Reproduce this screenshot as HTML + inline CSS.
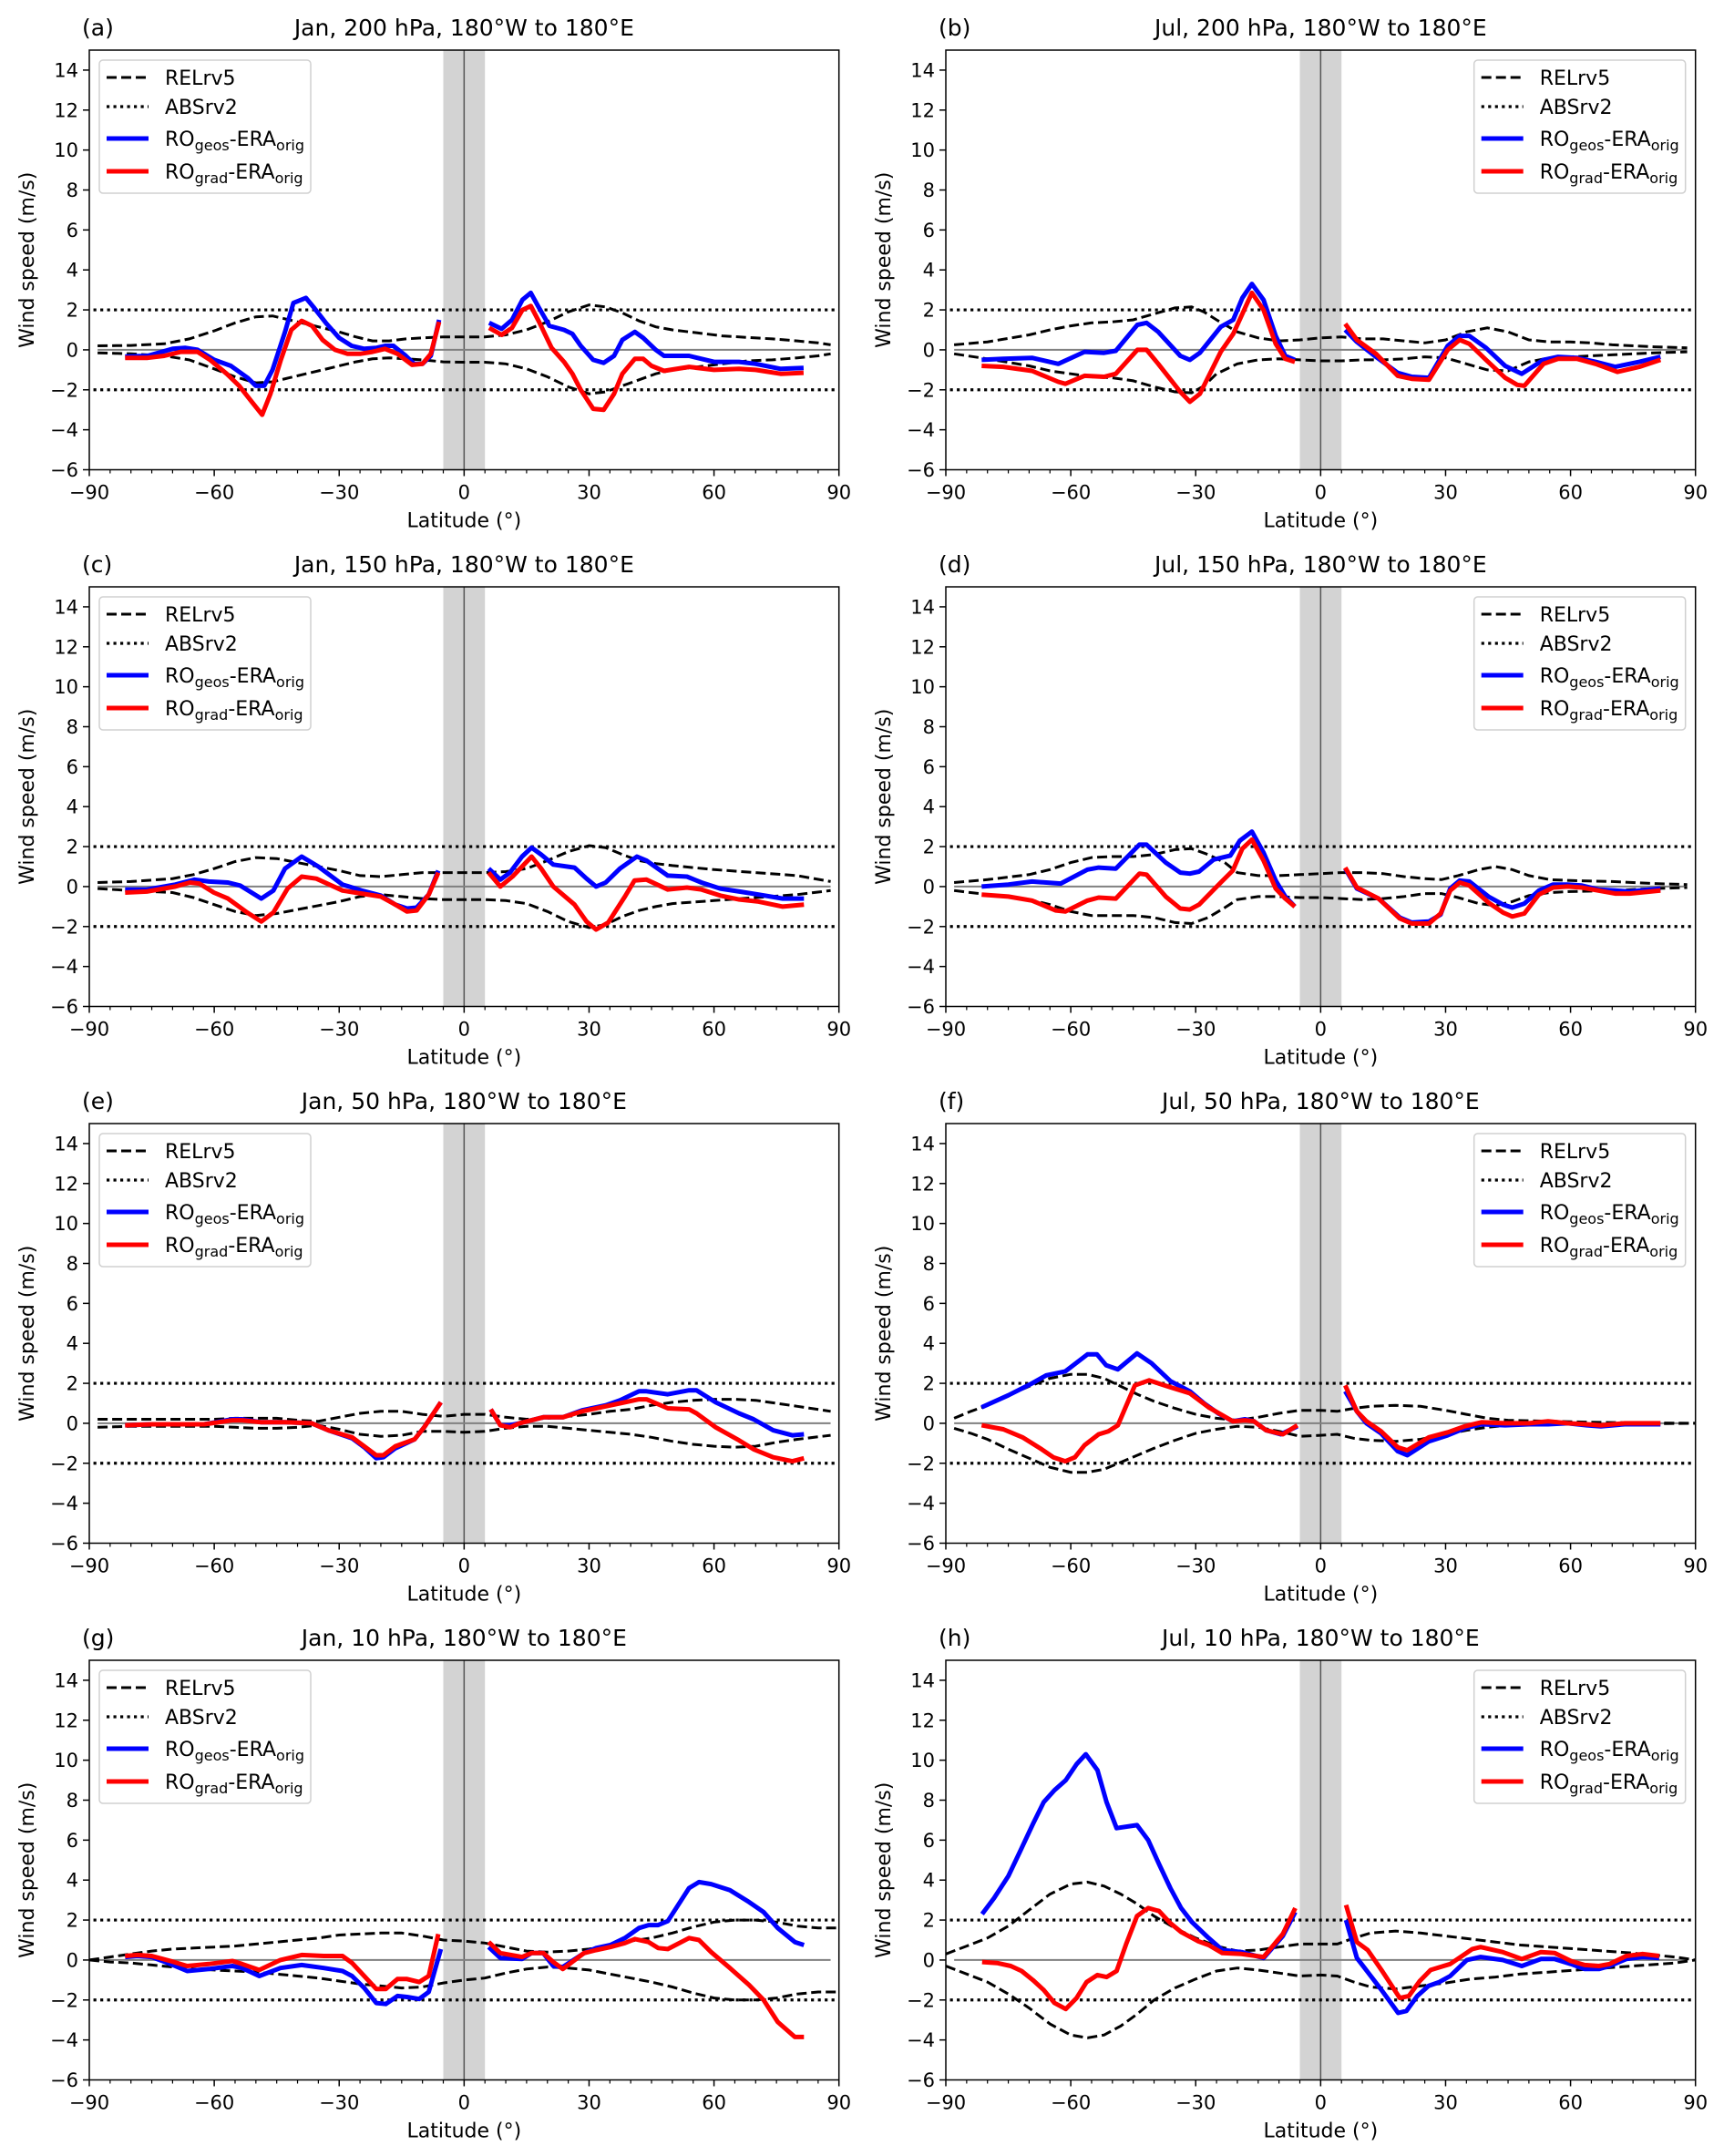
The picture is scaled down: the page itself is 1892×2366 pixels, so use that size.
<!DOCTYPE html>
<html><head><meta charset="utf-8"><title>Wind speed differences</title>
<style>html,body{margin:0;padding:0;background:#fff}svg{display:block}text{font-family:"DejaVu Sans","Liberation Sans",sans-serif;fill:#000}</style>
</head><body>
<svg id="fig" xmlns="http://www.w3.org/2000/svg" width="1892" height="2366" viewBox="0 0 1892 2366"></svg>
<script>
// ---------- data ----------
const xTicks=[-90,-60,-30,0,30,60,90];
const yTicks=[-6,-4,-2,0,2,4,6,8,10,12,14];
const absLevels=[2,-2];

const aDashLat=[-88,-80,-72,-66,-60,-55,-50,-46,-42,-38,-34,-30,-26,-22,-18,-14,-10,-5,0,5,10,15,20,25,30,34,38,42,46,50,56,62,68,74,80,85,88];
const aDashUp=[0.2,0.22,0.3,0.55,0.95,1.35,1.65,1.7,1.5,1.3,1.1,0.9,0.65,0.45,0.45,0.55,0.6,0.65,0.65,0.65,0.75,1.0,1.4,1.9,2.25,2.15,1.85,1.45,1.15,1.0,0.85,0.7,0.62,0.55,0.45,0.35,0.25];
const aDashLo=[-0.15,-0.2,-0.3,-0.5,-0.95,-1.35,-1.65,-1.6,-1.4,-1.2,-1.0,-0.8,-0.6,-0.45,-0.4,-0.45,-0.5,-0.6,-0.62,-0.62,-0.7,-0.95,-1.35,-1.85,-2.2,-2.1,-1.8,-1.5,-1.2,-1.0,-0.85,-0.7,-0.55,-0.5,-0.4,-0.3,-0.2];
const aBlueLat=[-81.4,-76,-70,-67,-64,-60,-56,-52,-50,-48,-46,-43,-41,-38,-36,-33,-30,-27,-24,-21,-19,-17,-14,-12,-10,-8,-6,null,6,9,11.5,14,16,18,20.5,24,26,28,31,33.5,36,38,41,43,46,48,54,60,66,70,76,81.5];
const aBlue=[-0.33,-0.3,0.05,0.1,0,-0.5,-0.8,-1.4,-1.8,-1.8,-1,0.9,2.35,2.6,2.1,1.3,0.6,0.2,0.05,0.1,0.2,0.2,-0.3,-0.7,-0.7,-0.3,1.5,null,1.35,1.05,1.5,2.5,2.85,2.1,1.2,1.0,0.8,0.2,-0.5,-0.65,-0.3,0.5,0.9,0.6,0,-0.3,-0.3,-0.6,-0.6,-0.7,-0.95,-0.9];
const aRedLat=[-81.4,-76,-72,-68,-64,-61,-57,-54,-51,-48.5,-46.5,-44,-41.5,-39,-36.5,-34,-31,-28,-25,-22,-19,-16,-12.5,-10,-8,-6,null,6,9,11.5,14,16,18,21,24,26,28,31,33.5,36,38,41,43,45,48,54,60,66,70,76,81.5];
const aRed=[-0.4,-0.4,-0.3,-0.1,-0.1,-0.5,-1.2,-1.8,-2.6,-3.25,-2.2,-0.5,1.0,1.45,1.2,0.5,0,-0.2,-0.2,-0.1,0.05,-0.2,-0.75,-0.7,-0.2,1.4,null,1.1,0.75,1.1,2.0,2.2,1.4,0.1,-0.6,-1.2,-2.0,-2.95,-3.0,-2.2,-1.2,-0.45,-0.45,-0.8,-1.05,-0.85,-1.0,-0.95,-1.0,-1.2,-1.15];

const bDashLat=[-88,-80,-70,-65,-60,-55,-50,-45,-40,-35,-31,-28,-25,-20,-15,-10,-5,0,5,10,15,20,25,30,35,40,45,50,55,60,65,70,80,88];
const bDashUp=[0.25,0.4,0.75,1.0,1.2,1.35,1.4,1.5,1.8,2.1,2.15,1.9,1.5,0.9,0.6,0.45,0.5,0.6,0.65,0.55,0.55,0.45,0.35,0.5,0.9,1.1,0.9,0.5,0.4,0.4,0.35,0.25,0.15,0.1];
const bDashLo=[-0.2,-0.45,-0.8,-1.05,-1.2,-1.35,-1.4,-1.55,-1.85,-2.1,-2.15,-1.8,-1.2,-0.7,-0.5,-0.45,-0.5,-0.55,-0.55,-0.5,-0.5,-0.45,-0.35,-0.4,-0.7,-1.0,-1.05,-0.6,-0.4,-0.35,-0.3,-0.25,-0.15,-0.1];
const bBlueLat=[-81.4,-76.2,-69.3,-63,-56.7,-52,-49.2,-44,-41.8,-39,-33.7,-31.4,-29,-24,-21,-18.8,-16.5,-13.7,-10.8,-8.5,-6.2,null,5.9,8.7,13.3,18.5,21.9,26,30.5,33.4,35.7,39.7,44.3,48.3,53.5,57,61.6,66,70.7,76.5,81.6];
const bBlue=[-0.5,-0.45,-0.4,-0.7,-0.1,-0.15,-0.05,1.25,1.35,0.9,-0.3,-0.5,-0.15,1.15,1.5,2.6,3.3,2.5,0.7,-0.3,-0.5,null,1.0,0.4,-0.35,-1.15,-1.35,-1.4,0.2,0.7,0.7,0.1,-0.8,-1.2,-0.5,-0.35,-0.4,-0.6,-0.85,-0.6,-0.35];
const bRedLat=[-81.4,-76.2,-69.3,-63,-61.3,-56.7,-52,-49.2,-44,-41.8,-39,-33.7,-31.4,-29,-24,-21,-18.8,-16.5,-13.7,-10.8,-8.5,-6.2,null,5.9,8.7,13.3,18.5,21.9,26,30.5,33.4,35.7,39.7,44.3,47.2,48.9,53.5,57,61.6,66,71.3,76.5,81.6];
const bRed=[-0.8,-0.85,-1.05,-1.6,-1.7,-1.3,-1.35,-1.2,0,0,-0.7,-2.1,-2.6,-2.2,-0.1,0.8,1.8,2.85,2.0,0.3,-0.45,-0.6,null,1.3,0.5,-0.2,-1.3,-1.45,-1.5,0,0.5,0.3,-0.5,-1.4,-1.75,-1.8,-0.7,-0.45,-0.45,-0.7,-1.1,-0.85,-0.5];

const cDashLat=[-88,-80,-70,-65,-60,-55,-50,-45,-40,-35,-30,-25,-20,-15,-10,-5,0,5,10,15,20,25,30,34,38,42,46,50,60,70,80,88];
const cDashUp=[0.2,0.25,0.4,0.6,0.9,1.25,1.45,1.4,1.2,1.0,0.8,0.55,0.5,0.6,0.7,0.7,0.7,0.7,0.75,0.9,1.3,1.75,2.05,1.95,1.6,1.3,1.15,1.05,0.85,0.7,0.55,0.25];
const cDashLo=[-0.1,-0.2,-0.3,-0.55,-0.9,-1.25,-1.45,-1.35,-1.15,-0.95,-0.75,-0.5,-0.4,-0.5,-0.6,-0.65,-0.65,-0.65,-0.7,-0.85,-1.25,-1.75,-2.05,-1.9,-1.5,-1.2,-1.0,-0.85,-0.7,-0.55,-0.4,-0.2];
const cBlueLat=[-81.4,-76.2,-69.3,-64.7,-61.3,-56.7,-53.8,-48.7,-45.8,-43,-39,-35,-29.2,-24.6,-20,-16.5,-13.7,-11.4,-8.5,-6.2,null,5.9,8.7,11,13.9,16.2,18.5,21.4,26.5,29.4,31.7,34,37.4,41.5,43.8,48.9,53.5,57,61.5,66.1,70.7,76.5,81.6];
const cBlue=[-0.15,-0.15,0.1,0.35,0.25,0.2,0.05,-0.6,-0.2,0.9,1.5,1.0,0.1,-0.2,-0.45,-0.9,-1.1,-1.05,-0.4,0.8,null,0.9,0.35,0.7,1.5,1.95,1.6,1.1,0.95,0.4,0,0.2,0.9,1.5,1.3,0.55,0.5,0.2,-0.1,-0.25,-0.4,-0.6,-0.6];
const cRedLat=[-81.4,-76.2,-69.3,-65.9,-63.6,-60.1,-56.7,-52.1,-48.7,-45.8,-42.4,-39,-35.5,-29.2,-24.6,-20,-16.5,-13.7,-11.4,-8.5,-6.2,null,5.9,8.7,11.6,16.2,18.5,21.4,26.5,29.4,31.7,34.6,38.6,40.9,43.8,48.9,53.5,57,61.5,66.1,70.7,76.5,81.6];
const cRed=[-0.3,-0.25,0,0.2,0.15,-0.3,-0.6,-1.3,-1.75,-1.3,-0.1,0.5,0.4,-0.2,-0.35,-0.5,-0.9,-1.25,-1.2,-0.4,0.7,null,0.7,0,0.5,1.5,0.9,0,-0.9,-1.75,-2.15,-1.8,-0.5,0.3,0.35,-0.15,-0.05,-0.15,-0.45,-0.65,-0.75,-1.0,-0.9];

const dDashLat=[-88,-80,-70,-65,-60,-55,-50,-45,-40,-35,-31,-27,-23,-20,-15,-10,-5,0,5,10,15,20,25,29,33,38,42,46,50,55,60,70,80,88];
const dDashUp=[0.2,0.35,0.6,0.85,1.2,1.45,1.5,1.5,1.6,1.85,1.9,1.6,1.2,0.7,0.55,0.55,0.6,0.65,0.7,0.7,0.65,0.5,0.4,0.35,0.55,0.85,1.0,0.85,0.55,0.35,0.3,0.25,0.15,0.1];
const dDashLo=[-0.2,-0.4,-0.65,-0.9,-1.25,-1.45,-1.45,-1.45,-1.55,-1.8,-1.85,-1.55,-1.05,-0.65,-0.5,-0.5,-0.55,-0.55,-0.6,-0.65,-0.6,-0.5,-0.35,-0.35,-0.55,-0.85,-0.95,-0.75,-0.45,-0.3,-0.25,-0.2,-0.1,-0.05];
const dBlueLat=[-81.4,-75,-69.3,-62.4,-56,-53.3,-49.2,-43.5,-41.8,-37.2,-33.7,-31.4,-29.2,-25.7,-21.7,-19.4,-16.5,-13.7,-10.8,-8.5,-6.2,null,5.9,8.7,13.9,19,21.9,26,28.8,31.1,33.4,35.7,40.3,43.8,46,48.9,52.4,55.8,59.3,62.7,66.7,70.7,74.2,81.6];
const dBlue=[0,0.1,0.25,0.15,0.85,0.95,0.9,2.1,2.1,1.2,0.7,0.65,0.75,1.35,1.55,2.3,2.75,1.7,0.3,-0.5,-1.0,null,0.9,-0.1,-0.6,-1.55,-1.8,-1.75,-1.4,-0.1,0.3,0.25,-0.5,-0.9,-1.05,-0.85,-0.2,0.1,0.1,0.05,-0.15,-0.2,-0.25,-0.1];
const dRedLat=[-81.4,-75,-69.3,-63.6,-61.3,-56,-53.3,-49.2,-43.5,-41.8,-37.2,-33.7,-31.4,-29.2,-24,-21.1,-18.8,-16.5,-13.7,-10.8,-8.5,-6.2,null,5.9,8.7,13.9,19,21.9,26,28.8,31.1,33.4,35.7,40.3,43.8,46,48.9,52.4,55.8,59.3,62.7,66.7,70.7,74.2,81.6];
const dRed=[-0.4,-0.5,-0.7,-1.2,-1.25,-0.7,-0.55,-0.6,0.65,0.6,-0.5,-1.1,-1.15,-0.9,0.2,0.8,1.9,2.35,1.3,-0.1,-0.6,-1.0,null,0.95,-0.05,-0.6,-1.6,-1.85,-1.85,-1.35,-0.2,0.2,0.05,-0.8,-1.3,-1.5,-1.35,-0.4,-0.05,0,-0.05,-0.2,-0.35,-0.35,-0.2];

const eDashLat=[-88,-80,-70,-65,-60,-55,-50,-45,-40,-35,-30,-25,-20,-15,-10,-5,0,5,10,15,20,25,30,35,40,45,50,55,60,65,70,75,80,88];
const eDashUp=[0.2,0.2,0.2,0.2,0.2,0.25,0.25,0.25,0.15,0.1,0.3,0.5,0.6,0.6,0.45,0.35,0.45,0.45,0.3,0.2,0.25,0.35,0.45,0.6,0.7,0.9,1.05,1.15,1.2,1.2,1.15,1.0,0.85,0.6];
const eDashLo=[-0.2,-0.15,-0.15,-0.15,-0.15,-0.2,-0.25,-0.25,-0.2,-0.1,-0.3,-0.55,-0.65,-0.6,-0.4,-0.4,-0.45,-0.4,-0.25,-0.15,-0.15,-0.25,-0.35,-0.45,-0.55,-0.7,-0.9,-1.05,-1.15,-1.2,-1.15,-0.95,-0.8,-0.6];
const eBlueLat=[-81.4,-75,-69.3,-62.4,-55.6,-53.3,-48.7,-42.9,-36.6,-32.6,-26.9,-24,-21.1,-19.4,-16.5,-11.9,-9.6,-5.6,null,6.4,8.7,11,13.3,19,23.7,28.3,34,37.4,42,43.8,48.9,54,55.8,60.4,66,69.5,74.2,78.8,81.6];
const eBlue=[-0.1,-0.05,-0.05,-0.05,0.2,0.2,0.05,0.05,0,-0.35,-0.75,-1.2,-1.75,-1.7,-1.25,-0.8,-0.2,1.05,null,0.7,-0.1,-0.1,0,0.3,0.3,0.65,0.9,1.15,1.6,1.6,1.45,1.65,1.65,1.05,0.5,0.2,-0.35,-0.6,-0.55];
const eRedLat=[-81.4,-75,-69.3,-62.4,-55.6,-53.3,-48.7,-42.9,-36.6,-32.6,-26.9,-24,-21.1,-19.4,-16.5,-11.9,-9.6,-5.6,null,6.4,8.7,11,13.3,19,23.7,28.3,34,37.4,42,43.8,48.9,54,55.8,60.4,66,69.5,74.2,78.8,81.6];
const eRed=[-0.1,-0.05,-0.05,-0.05,0.15,0.15,0.05,0.05,0,-0.35,-0.7,-1.15,-1.6,-1.6,-1.15,-0.8,-0.2,1.05,null,0.7,-0.1,-0.2,0,0.3,0.3,0.6,0.85,1.0,1.2,1.2,0.75,0.7,0.5,-0.2,-0.85,-1.3,-1.7,-1.9,-1.75];

const fDashLat=[-88,-84,-80,-75,-70,-65,-60,-56,-52,-48,-44,-40,-35,-30,-25,-20,-15,-10,-5,0,4,8,12,18,24,30,35,40,45,55,65,80,90];
const fDashUp=[0.25,0.6,0.9,1.4,1.85,2.25,2.45,2.45,2.25,1.85,1.45,1.1,0.75,0.45,0.25,0.15,0.3,0.5,0.65,0.65,0.6,0.75,0.85,0.9,0.85,0.65,0.45,0.25,0.15,0.1,0.05,0.02,0];
const fDashLo=[-0.25,-0.5,-0.8,-1.3,-1.75,-2.2,-2.45,-2.45,-2.3,-1.95,-1.6,-1.25,-0.85,-0.5,-0.3,-0.15,-0.2,-0.4,-0.65,-0.6,-0.55,-0.75,-0.85,-0.9,-0.8,-0.55,-0.35,-0.2,-0.1,-0.05,-0.05,-0.02,0];
const fBlueLat=[-81.4,-75,-69.3,-65.9,-61.3,-56,-53.7,-51.5,-48.7,-44.1,-40.6,-36,-31.4,-28,-24.6,-21.1,-18.2,-16,-13.1,-9.6,-5.6,null,5.9,8.7,11,14.5,18.5,20.8,26,30.5,34.6,38.6,44.3,50,54.6,59.3,63.9,67.3,73,81.6];
const fBlue=[0.8,1.4,2.0,2.4,2.6,3.45,3.45,2.9,2.7,3.5,3.0,2.1,1.6,1.0,0.5,0.1,0.2,0.1,-0.35,-0.55,-0.15,null,1.6,0.6,0,-0.5,-1.4,-1.6,-0.9,-0.6,-0.25,-0.05,-0.1,-0.05,-0.05,0,-0.1,-0.15,-0.05,-0.05];
const fRedLat=[-81.4,-76.2,-71.6,-67,-64.2,-61.3,-59,-56.7,-53.3,-51,-48.7,-44.6,-41.2,-36,-31.4,-26.9,-21.1,-18.2,-16,-13.1,-9.1,-5.6,null,5.9,8.7,11,14.5,18.5,20.8,26,30.5,34.6,38.6,44.3,50,54.6,59.3,63.9,67.3,73,81.6];
const fRed=[-0.1,-0.3,-0.7,-1.3,-1.7,-1.9,-1.7,-1.1,-0.55,-0.4,-0.1,1.9,2.15,1.8,1.5,0.8,0.1,0.15,0.1,-0.35,-0.55,-0.1,null,1.9,0.6,0.1,-0.4,-1.2,-1.35,-0.7,-0.45,-0.15,0.05,0,0,0.1,0,-0.05,-0.1,0,0];

const gDashLat=[-90,-85,-80,-75,-70,-65,-60,-55,-50,-45,-40,-35,-30,-25,-20,-15,-10,-5,0,5,10,15,20,25,30,35,40,45,50,55,60,65,70,75,80,85,90];
const gDashUp=[0,0.15,0.3,0.45,0.55,0.6,0.65,0.7,0.8,0.9,1.0,1.1,1.25,1.3,1.35,1.35,1.2,1.0,0.95,0.85,0.65,0.45,0.4,0.45,0.55,0.75,0.95,1.1,1.35,1.65,1.9,2.0,2.0,1.9,1.7,1.6,1.6];
const gDashLo=[0,-0.1,-0.15,-0.25,-0.35,-0.45,-0.5,-0.55,-0.6,-0.7,-0.8,-0.9,-1.05,-1.2,-1.3,-1.4,-1.35,-1.15,-1.0,-0.9,-0.65,-0.45,-0.35,-0.4,-0.5,-0.7,-0.9,-1.1,-1.35,-1.65,-1.9,-2.0,-2.0,-1.9,-1.7,-1.6,-1.6];
const gBlueLat=[-81.4,-78.5,-75,-70.5,-66.5,-61.3,-55.6,-53.3,-49.2,-44.1,-39,-33.7,-29.2,-26.9,-24,-21.1,-18.8,-16,-13.7,-10.8,-8.5,-5.6,null,5.9,8.7,13.9,16.2,19,21.4,23.7,28.8,31.7,35.1,38.6,42,44.3,46.6,48.9,54,56.4,59.3,63.8,68.4,71.9,75.3,79.4,81.6];
const gBlue=[0.15,0.2,0.15,-0.2,-0.55,-0.45,-0.3,-0.4,-0.8,-0.4,-0.25,-0.4,-0.55,-0.8,-1.4,-2.15,-2.2,-1.8,-1.85,-1.95,-1.6,0.55,null,0.65,0.1,0.05,0.35,0.35,-0.3,-0.35,0.35,0.6,0.75,1.1,1.6,1.75,1.75,1.95,3.6,3.9,3.8,3.5,2.9,2.4,1.6,0.9,0.75];
const gRedLat=[-81.4,-78.5,-75,-70.5,-66.5,-61.3,-55.6,-53.3,-49.2,-44.1,-39,-33.7,-29.2,-26.9,-24,-21.1,-18.8,-16,-13.7,-10.8,-8.5,-6.2,null,5.9,8.7,13.9,16.2,19,21.4,23.7,28.8,31.7,35.1,38.6,41,44.3,46.6,48.9,54,56.4,59.3,63.8,68.4,71.9,75.3,79.4,81.6];
const gRed=[0.2,0.25,0.2,-0.05,-0.3,-0.2,-0.05,-0.2,-0.5,0,0.25,0.2,0.2,-0.15,-0.8,-1.45,-1.45,-0.95,-0.95,-1.1,-0.8,1.3,null,0.9,0.35,0.15,0.35,0.35,-0.1,-0.45,0.35,0.5,0.65,0.85,1.05,0.9,0.6,0.55,1.1,1.0,0.4,-0.4,-1.25,-2.0,-3.1,-3.85,-3.85];

const hDashLat=[-90,-85,-80,-75,-70,-65,-60,-56,-52,-48,-44,-40,-35,-30,-25,-20,-15,-10,-5,0,4,8,12,18,24,30,36,42,48,55,65,75,85,90];
const hDashUp=[0.3,0.7,1.1,1.7,2.5,3.3,3.8,3.9,3.7,3.3,2.8,2.2,1.6,1.1,0.7,0.45,0.5,0.65,0.8,0.8,0.8,1.1,1.35,1.45,1.35,1.2,1.05,0.9,0.75,0.65,0.5,0.35,0.15,0];
const hDashLo=[-0.3,-0.7,-1.1,-1.7,-2.4,-3.2,-3.75,-3.9,-3.75,-3.3,-2.7,-2.0,-1.4,-0.95,-0.55,-0.4,-0.5,-0.65,-0.8,-0.75,-0.8,-1.1,-1.35,-1.45,-1.3,-1.15,-0.95,-0.85,-0.7,-0.6,-0.45,-0.3,-0.15,0];
const hBlueLat=[-81.3,-78.4,-75,-71.8,-69.1,-66.5,-63.9,-61.2,-58.6,-56.4,-53.6,-51.4,-49,-44.1,-41.4,-38.8,-36.1,-33.5,-30.9,-26.9,-23.6,-19,-13.7,-9.1,-6.1,null,6.1,8.7,11.3,14.6,18.6,20.6,23.2,25.9,28.5,31.1,35.1,38.4,43.7,48.3,52.9,56.2,60.1,63.4,66.8,69.4,73.4,77.3,81.3];
const hBlue=[2.3,3.1,4.2,5.6,6.8,7.9,8.5,9.0,9.8,10.3,9.5,7.9,6.6,6.75,6.0,4.8,3.6,2.6,1.9,1.1,0.5,0.4,0.1,1.2,2.4,null,2.0,0.1,-0.6,-1.5,-2.65,-2.55,-1.8,-1.3,-1.1,-0.8,0,0.15,0,-0.3,0.05,0.05,-0.2,-0.45,-0.45,-0.3,0.05,0.15,0.1];
const hRedLat=[-81.3,-77.7,-74.4,-71.8,-69.1,-66.5,-63.9,-61.2,-58.6,-56.2,-53.6,-51.4,-49,-46.7,-44.1,-41.4,-38.8,-36.1,-33.5,-29.5,-26.9,-23.6,-19,-13.7,-9.1,-6.1,null,6.1,8.7,11.3,14.6,19,21.2,23.8,26.4,31.1,36.4,38.4,43.7,48.3,52.9,56.2,60.1,63.4,66.8,69.4,73.4,77.3,81.3];
const hRed=[-0.1,-0.15,-0.3,-0.55,-1.0,-1.5,-2.15,-2.45,-1.9,-1.1,-0.75,-0.85,-0.55,0.8,2.2,2.6,2.45,1.85,1.4,0.95,0.75,0.35,0.3,0.15,1.3,2.6,null,2.75,0.9,0.5,-0.5,-1.9,-1.8,-1.05,-0.5,-0.2,0.55,0.65,0.4,0.05,0.4,0.35,-0.05,-0.25,-0.3,-0.2,0.2,0.3,0.2];

const panels=[
 {id:'a',title:'Jan, 200 hPa, 180°W to 180°E',col:0,row:0,legRight:false,dl:aDashLat,du:aDashUp,dd:aDashLo,bl:aBlueLat,b:aBlue,rl:aRedLat,r:aRed},
 {id:'b',title:'Jul, 200 hPa, 180°W to 180°E',col:1,row:0,legRight:true,dl:bDashLat,du:bDashUp,dd:bDashLo,bl:bBlueLat,b:bBlue,rl:bRedLat,r:bRed},
 {id:'c',title:'Jan, 150 hPa, 180°W to 180°E',col:0,row:1,legRight:false,dl:cDashLat,du:cDashUp,dd:cDashLo,bl:cBlueLat,b:cBlue,rl:cRedLat,r:cRed},
 {id:'d',title:'Jul, 150 hPa, 180°W to 180°E',col:1,row:1,legRight:true,dl:dDashLat,du:dDashUp,dd:dDashLo,bl:dBlueLat,b:dBlue,rl:dRedLat,r:dRed},
 {id:'e',title:'Jan, 50 hPa, 180°W to 180°E',col:0,row:2,legRight:false,dl:eDashLat,du:eDashUp,dd:eDashLo,bl:eBlueLat,b:eBlue,rl:eRedLat,r:eRed},
 {id:'f',title:'Jul, 50 hPa, 180°W to 180°E',col:1,row:2,legRight:true,dl:fDashLat,du:fDashUp,dd:fDashLo,bl:fBlueLat,b:fBlue,rl:fRedLat,r:fRed},
 {id:'g',title:'Jan, 10 hPa, 180°W to 180°E',col:0,row:3,legRight:false,dl:gDashLat,du:gDashUp,dd:gDashLo,bl:gBlueLat,b:gBlue,rl:gRedLat,r:gRed},
 {id:'h',title:'Jul, 10 hPa, 180°W to 180°E',col:1,row:3,legRight:true,dl:hDashLat,du:hDashUp,dd:hDashLo,bl:hBlueLat,b:hBlue,rl:hRedLat,r:hRed}
];

// ---------- drawing ----------
const NS='http://www.w3.org/2000/svg';
const svg=document.getElementById('fig');
function mk(tag,attrs,parent){const e=document.createElementNS(NS,tag);for(const k in attrs)e.setAttribute(k,attrs[k]);(parent||svg).appendChild(e);return e;}
const W=822.7,H=460.5,XMIN=-90,XMAX=90,YMIN=-6,YMAX=15;
function fmt(v){return v<0?'\u2212'+Math.abs(v):String(v);}

panels.forEach(p=>{
  const L=p.col?1038:98, T=55+p.row*589, B=T+H, R=L+W;
  const sx=v=>L+(v-XMIN)/(XMAX-XMIN)*W;
  const sy=v=>T+(YMAX-v)/(YMAX-YMIN)*H;
  const g=mk('g',{});
  
  
  const cp=mk('clipPath',{id:'clip'+p.id},g);
  mk('rect',{x:L,y:T,width:W,height:H},cp);
  const plot=mk('g',{'clip-path':'url(#clip'+p.id+')'},g);
  const band=mk('rect',{x:sx(-5),y:T,width:sx(5)-sx(-5),height:H,fill:'#d3d3d3'},plot);
  
  
  const vl=mk('line',{x1:sx(0),x2:sx(0),y1:T,y2:B,stroke:'#555',['stroke-width']:1.5},plot);
  
  
  const zl=mk('line',{x1:sx(-88),x2:sx(88),y1:sy(0),y2:sy(0),stroke:'#808080',['stroke-width']:2},plot);
  
  
  absLevels.forEach(v=>{
    const al=mk('line',{x1:sx(-89),x2:sx(89),y1:sy(v),y2:sy(v),stroke:'#000',['stroke-width']:3.2,['stroke-dasharray']:'3.2 4.3'},plot);
    
    
  });
  function path(lats,vals){let d='',pen=false;const n=Math.min(lats.length,vals.length);
    for(let i=0;i<n;i++){if(lats[i]===null||vals[i]===null){pen=false;continue;}d+=(pen?'L':'M')+sx(lats[i]).toFixed(1)+' '+sy(vals[i]).toFixed(1);pen=true;}return d;}
  const du=mk('path',{d:path(p.dl,p.du),fill:'none',stroke:'#000',['stroke-width']:3,['stroke-dasharray']:'11 5'},plot);
  
  
  const dd=mk('path',{d:path(p.dl,p.dd),fill:'none',stroke:'#000',['stroke-width']:3,['stroke-dasharray']:'11 5'},plot);
  
  
  const bl=mk('path',{d:path(p.bl,p.b),fill:'none',stroke:'#0000ff',['stroke-width']:5,['stroke-linejoin']:'round'},plot);
  
  
  const rl=mk('path',{d:path(p.rl,p.r),fill:'none',stroke:'#ff0000',['stroke-width']:5,['stroke-linejoin']:'round'},plot);
  
  
  const sp=mk('rect',{x:L,y:T,width:W,height:H,fill:'none',stroke:'#000',['stroke-width']:1.5},g);
  
  
  yTicks.forEach(v=>{
    mk('line',{x1:L-7,x2:L,y1:sy(v),y2:sy(v),stroke:'#000',['stroke-width']:1.5},g);
    const t=mk('text',{x:L-12,y:sy(v)+7.5,'text-anchor':'end','font-size':21},g);
    t.textContent=fmt(v);
    
    
  });
  for(let v=-90;v<=90;v+=5){const major=xTicks.indexOf(v)>=0;
    mk('line',{x1:sx(v),x2:sx(v),y1:B,y2:B+(major?7:4),stroke:'#000',['stroke-width']:major?1.5:1.2},g);}
  xTicks.forEach(v=>{
    const t=mk('text',{x:sx(v),y:B+32,'text-anchor':'middle','font-size':21},g);
    t.textContent=fmt(v);
    
    
  });
  const xl=mk('text',{x:L+W/2,y:B+63,'text-anchor':'middle','font-size':22},g);
  xl.textContent='Latitude (°)';
  
  
  const yl=mk('text',{x:0,y:0,'text-anchor':'middle','font-size':22,transform:'translate('+(L-61)+','+(T+H/2)+') rotate(-90)'},g);
  yl.textContent='Wind speed (m/s)';
  
  
  const tt=mk('text',{x:L+W/2,y:T-16,'text-anchor':'middle','font-size':25},g);
  tt.textContent=p.title;
  
  
  const lb=mk('text',{x:L-8,y:T-16,'font-size':25},g);
  lb.textContent='('+p.id+')';
  
  
  const lw=232,lh=146,lx=p.legRight?R-11-lw:L+11,ly=T+11;
  const lg=mk('g',{},g);
  
  
  mk('rect',{x:lx,y:ly,width:lw,height:lh,rx:4,fill:'#fff','fill-opacity':0.85,stroke:'#d0d0d0',['stroke-width']:1.5},lg);
  const rows=[
    {dy:19,stroke:'#000',w:3,dash:'11 5',main:'RELrv5'},
    {dy:51,stroke:'#000',w:3.2,dash:'3.2 4.3',main:'ABSrv2'},
    {dy:86,stroke:'#0000ff',w:5,dash:'',main:'RO',sub1:'geos',mid:'-ERA',sub2:'orig'},
    {dy:122,stroke:'#ff0000',w:5,dash:'',main:'RO',sub1:'grad',mid:'-ERA',sub2:'orig'}];
  rows.forEach(rw=>{
    const e=mk('g',{},lg);
    
    
    const a={x1:lx+8,x2:lx+54,y1:ly+rw.dy,y2:ly+rw.dy,stroke:rw.stroke,['stroke-width']:rw.w};
    if(rw.dash)a['stroke-dasharray']=rw.dash;
    mk('line',a,e);
    const t=mk('text',{x:lx+72,y:ly+rw.dy+8,'font-size':22},e);
    const s0=mk('tspan',{},t);s0.textContent=rw.main;
    if(rw.sub1){
      const s1=mk('tspan',{'font-size':16,dy:5},t);s1.textContent=rw.sub1;
      const s2=mk('tspan',{'font-size':22,dy:-5},t);s2.textContent=rw.mid;
      const s3=mk('tspan',{'font-size':16,dy:5},t);s3.textContent=rw.sub2;
    }
  });
});
</script>
</body></html>
